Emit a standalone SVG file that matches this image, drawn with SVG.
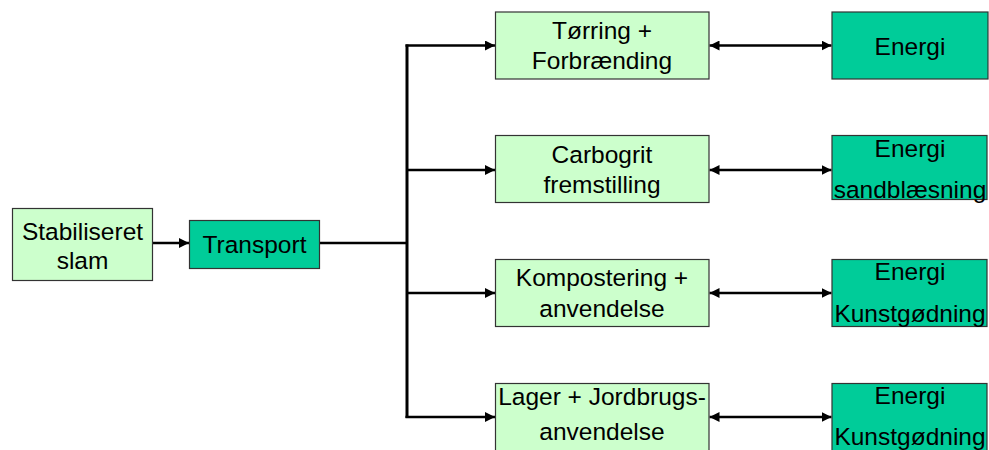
<svg xmlns="http://www.w3.org/2000/svg" width="989" height="450" viewBox="0 0 989 450">
<style>
.lg{fill:#CCFFCC;stroke:#333;stroke-width:1.2}
.dg{fill:#00CC99;stroke:#333;stroke-width:1.2}
text{font-family:"Liberation Sans",Arial,sans-serif;font-size:24.5px;fill:#000;text-anchor:middle}
.ln{stroke:#000;stroke-width:2.5;fill:none}
</style>
<defs>
<marker id="ah" viewBox="0 0 10 10" refX="10" refY="5" markerWidth="4" markerHeight="4" orient="auto-start-reverse" markerUnits="strokeWidth">
<path d="M0,0 L10,5 L0,10 z" fill="#000"/>
</marker>
</defs>
<g id="connectors">
<line class="ln" x1="152.5" y1="243" x2="189" y2="243" marker-end="url(#ah)"/>
<line class="ln" x1="319.5" y1="243" x2="407" y2="243" stroke-width="3"/>
<line class="ln" x1="407" y1="44.5" x2="407" y2="418" style="stroke-width:3"/>
<line class="ln" x1="405.5" y1="45.5" x2="495" y2="45.5" marker-end="url(#ah)"/>
<line class="ln" x1="407" y1="170" x2="495" y2="170" marker-end="url(#ah)"/>
<line class="ln" x1="407" y1="293" x2="495" y2="293" marker-end="url(#ah)"/>
<line class="ln" x1="405.5" y1="417" x2="495" y2="417" marker-end="url(#ah)"/>
<line class="ln" x1="709.5" y1="45.5" x2="831.5" y2="45.5" marker-start="url(#ah)" marker-end="url(#ah)"/>
<line class="ln" x1="709.5" y1="170" x2="831.5" y2="170" marker-start="url(#ah)" marker-end="url(#ah)"/>
<line class="ln" x1="709.5" y1="293" x2="831.5" y2="293" marker-start="url(#ah)" marker-end="url(#ah)"/>
<line class="ln" x1="709.5" y1="417" x2="831.5" y2="417" marker-start="url(#ah)" marker-end="url(#ah)"/>
</g>
<g id="n-stabiliseret">
<rect class="lg" x="12.5" y="208.5" width="140" height="72"/>
<text x="82.5" y="240">Stabiliseret</text>
<text x="82.5" y="269">slam</text>
</g>
<g id="n-transport">
<rect class="dg" x="189.5" y="220.5" width="130" height="48"/>
<text x="254.5" y="253">Transport</text>
</g>
<g id="n-torring">
<rect class="lg" x="495.5" y="12" width="213.5" height="67"/>
<text x="602" y="39">Tørring +</text>
<text x="602" y="68.5">Forbrænding</text>
</g>
<g id="n-energi1">
<rect class="dg" x="832" y="12" width="156" height="67"/>
<text x="910" y="54.5">Energi</text>
</g>
<g id="n-carbogrit">
<rect class="lg" x="495.5" y="135.5" width="213.5" height="67"/>
<text x="602" y="163">Carbogrit</text>
<text x="602" y="193">fremstilling</text>
</g>
<g id="n-energi2">
<rect class="dg" x="832" y="135.5" width="155" height="64"/>
<text x="910" y="157">Energi</text>
<text x="910" y="198">sandblæsning</text>
</g>
<g id="n-kompostering">
<rect class="lg" x="495.5" y="259.5" width="213.5" height="67"/>
<text x="602" y="286">Kompostering +</text>
<text x="602" y="316.5">anvendelse</text>
</g>
<g id="n-energi3">
<rect class="dg" x="832" y="259.5" width="155" height="67"/>
<text x="910" y="280">Energi</text>
<text x="910" y="322">Kunstgødning</text>
</g>
<g id="n-lager">
<rect class="lg" x="495.5" y="383.5" width="213.5" height="70"/>
<text x="602" y="405">Lager + Jordbrugs-</text>
<text x="602" y="440">anvendelse</text>
</g>
<g id="n-energi4">
<rect class="dg" x="832" y="383.5" width="155" height="70"/>
<text x="910" y="404">Energi</text>
<text x="910" y="445">Kunstgødning</text>
</g>
</svg>
